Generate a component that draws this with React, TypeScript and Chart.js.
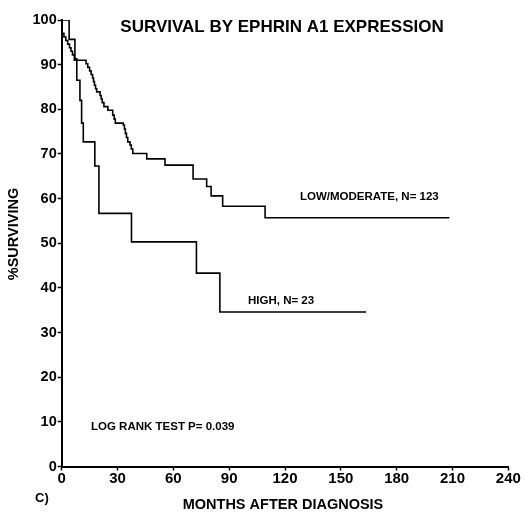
import React, { useEffect, useRef } from "react";
import { Chart, registerables } from "chart.js";

Chart.register(...registerables);

// Kaplan-Meier curves: [months, % surviving]
const lowModerateMonths = [0, 0.2, 1.2, 2.2, 3.2, 4.2, 5.0, 5.8, 6.8, 13.1, 14.0, 15.0, 15.8, 16.6, 17.1, 17.6, 18.2, 18.8, 20.6, 21.2, 21.8, 22.7, 24.8, 27.4, 28.2, 28.8, 33.1, 33.7, 34.2, 34.8, 35.5, 36.7, 37.4, 38.2, 45.7, 55.5, 70.6, 77.9, 80.3, 86.5, 109.3, 208.3];
const lowModerateSurv = [100, 97.0, 96.2, 95.4, 94.6, 93.8, 93.0, 92.2, 91.0, 90.2, 89.4, 88.6, 87.8, 87.0, 86.2, 85.4, 84.6, 83.9, 83.1, 82.3, 81.5, 80.6, 79.8, 78.7, 77.8, 76.9, 76.5, 75.6, 74.6, 73.7, 72.7, 72.0, 71.1, 70.1, 68.9, 67.5, 64.4, 62.7, 60.6, 58.3, 55.7, 55.7];

const highMonths = [0, 4.0, 7.1, 8.1, 9.8, 10.7, 11.6, 17.8, 20.0, 37.5, 72.4, 85.0, 163.6];
const highSurv = [100, 95.65, 91.3, 86.5, 82.0, 76.9, 72.7, 67.3, 56.7, 50.3, 43.3, 34.6, 34.6];

const xTicks = [0, 30, 60, 90, 120, 150, 180, 210, 240];
const yTicks = [0, 10, 20, 30, 40, 50, 60, 70, 80, 90, 100];

const titleText = "SURVIVAL BY EPHRIN A1 EXPRESSION";
const xTitle = "MONTHS AFTER DIAGNOSIS";
const yTitle = "%SURVIVING";
const lowLabel = "LOW/MODERATE, N= 123";
const highLabel = "HIGH, N= 23";
const testLabel = "LOG RANK TEST P= 0.039";
const panelLabel = "C)";

const FONT = "'Liberation Sans', Arial, Helvetica, sans-serif";

export default function App() {
  const ref = useRef<HTMLCanvasElement | null>(null);

  useEffect(() => {
    if (!ref.current) return;
    const toPts = (xs: number[], ys: number[]) => xs.map((x, i) => ({ x, y: ys[i] }));

    const textPlugin = {
      id: "texts",
      afterDraw(chart: any) {
        const ctx = chart.ctx as CanvasRenderingContext2D;
        ctx.save();
        ctx.fillStyle = "#000";
        ctx.textBaseline = "middle";
        ctx.textAlign = "center";
        ctx.font = `bold 17px ${FONT}`;
        ctx.fillText(titleText, 282, 27);
        ctx.font = `bold 14.5px ${FONT}`;
        ctx.fillText(xTitle, 283, 505);
        ctx.save();
        ctx.translate(14, 234);
        ctx.rotate(-Math.PI / 2);
        ctx.fillText(yTitle, 0, 0);
        ctx.restore();
        ctx.textAlign = "left";
        ctx.font = `bold 11.5px ${FONT}`;
        ctx.fillText(lowLabel, 300, 197);
        ctx.fillText(highLabel, 248, 301);
        ctx.fillText(testLabel, 91, 427);
        ctx.font = `bold 13px ${FONT}`;
        ctx.fillText(panelLabel, 35, 498);
        ctx.restore();
      },
    };

    const chart = new Chart(ref.current, {
      type: "line",
      data: {
        datasets: [
          {
            label: "LOW/MODERATE",
            data: toPts(lowModerateMonths, lowModerateSurv),
            stepped: "before",
            borderColor: "#000",
            borderWidth: 1.6,
            pointRadius: 0,
            fill: false,
          },
          {
            label: "HIGH",
            data: toPts(highMonths, highSurv),
            stepped: "before",
            borderColor: "#000",
            borderWidth: 1.6,
            pointRadius: 0,
            fill: false,
          },
        ],
      },
      options: {
        animation: false,
        responsive: false,
        devicePixelRatio: 1,
        layout: { padding: { left: 0, top: 20, right: 15.7, bottom: 0 } },
        plugins: { legend: { display: false }, tooltip: { enabled: false }, title: { display: false } },
        scales: {
          x: {
            type: "linear",
            min: 0,
            max: 240,
            afterBuildTicks: (s: any) => {
              s.ticks = xTicks.map((v) => ({ value: v }));
            },
            afterFit: (s: any) => {
              s.height = 46.5;
              s.paddingLeft = 0;
              s.paddingRight = 0;
            },
            border: { display: true, color: "#000", width: 2 },
            grid: { drawOnChartArea: false, drawTicks: true, tickLength: 4, color: "#000", tickWidth: 1.5 },
            ticks: {
              color: "#000",
              padding: -1,
              maxRotation: 0,
              autoSkip: false,
              font: { family: FONT, size: 15, weight: "bold" },
            },
          },
          y: {
            type: "linear",
            min: 0,
            max: 100,
            afterBuildTicks: (s: any) => {
              s.ticks = yTicks.map((v) => ({ value: v }));
            },
            afterFit: (s: any) => {
              s.width = 61.7;
              s.paddingTop = 0;
              s.paddingBottom = 0;
            },
            border: { display: true, color: "#000", width: 2 },
            grid: { drawOnChartArea: false, drawTicks: true, tickLength: 4, color: "#000", tickWidth: 1.5 },
            ticks: {
              color: "#000",
              padding: 1,
              autoSkip: false,
              font: { family: FONT, size: 14.5, weight: "bold" },
            },
          },
        },
      },
      plugins: [textPlugin],
    } as any);
    return () => chart.destroy();
  }, []);

  return (
    <div style={{ position: "absolute", left: 0, top: 0, width: 524, height: 513, background: "#fff" }}>
      <canvas ref={ref} width={524} height={513} style={{ width: 524, height: 513, display: "block" }} />
    </div>
  );
}
